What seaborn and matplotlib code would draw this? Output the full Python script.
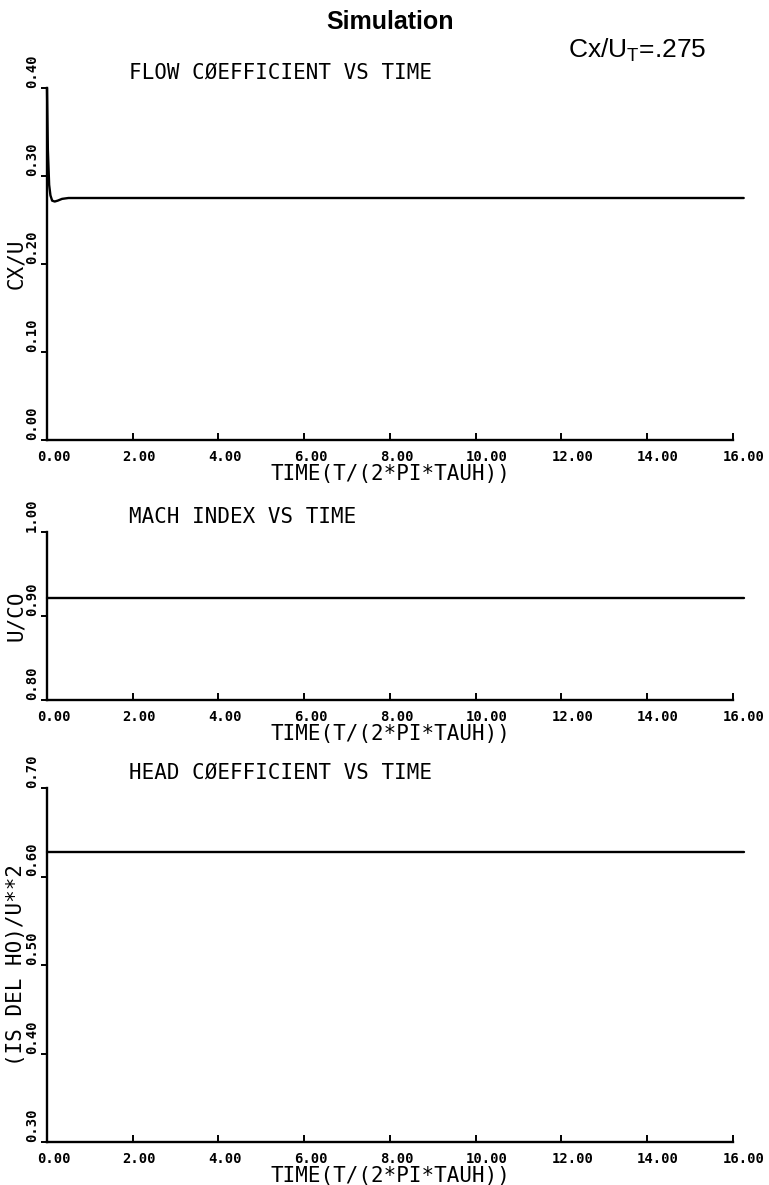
import matplotlib
matplotlib.use("Agg")
import matplotlib.pyplot as plt
import matplotlib.transforms as mtrans
import seaborn as sns
import pandas as pd

# Simulation output: flow coefficient, Mach index and head coefficient versus time
flow_time = [0.0, 0.02, 0.05, 0.08, 0.12, 0.18, 0.25, 0.35, 0.5, 0.8, 16.25]
flow_coef = [0.40, 0.33, 0.29, 0.278, 0.272, 0.271, 0.272, 0.274, 0.275, 0.275, 0.275]

mach_time = [0.0, 16.25]
mach_index = [0.922, 0.922]

head_time = [0.0, 16.25]
head_coef = [0.628, 0.628]

x_ticks = [0, 2, 4, 6, 8, 10, 12, 14, 16]

panels = [
    dict(t=flow_time, v=flow_coef, ylim=(0.0, 0.40), yticks=[0.0, 0.1, 0.2, 0.3, 0.4],
         title="FLOW CØEFFICIENT VS TIME", ylabel="CX/U"),
    dict(t=mach_time, v=mach_index, ylim=(0.80, 1.00), yticks=[0.8, 0.9, 1.0],
         title="MACH INDEX VS TIME", ylabel="U/CO"),
    dict(t=head_time, v=head_coef, ylim=(0.30, 0.70), yticks=[0.3, 0.4, 0.5, 0.6, 0.7],
         title="HEAD CØEFFICIENT VS TIME", ylabel="(IS DEL HO)/U**2"),
]

sns.set_style("ticks", {"axes.edgecolor": "black", "text.color": "black",
                        "axes.labelcolor": "black", "xtick.color": "black",
                        "ytick.color": "black"})
plt.rcParams["font.family"] = ["DejaVu Sans Mono", "DejaVu Sans"]

W, H = 769, 1185
fig = plt.figure(figsize=(W / 100, H / 100), dpi=100)

# axes boxes in pixels: (left, top, right, bottom)
boxes = [(47, 88, 733, 440), (47, 532, 733, 700), (47, 788, 733, 1142)]

mono = "DejaVu Sans Mono"
for p, (l, t, r, b) in zip(panels, boxes):
    ax = fig.add_axes([l / W, 1 - b / H, (r - l) / W, (b - t) / H])
    df = pd.DataFrame({"time": p["t"], "value": p["v"]})
    sns.lineplot(data=df, x="time", y="value", ax=ax, color="black", lw=1.7,
                 clip_on=False)
    ax.set_xlim(0, 16)
    ax.set_ylim(*p["ylim"])
    ax.tick_params(axis="x", direction="in", length=5, width=1.4, pad=7)
    ax.tick_params(axis="y", direction="out", length=4, width=1.4, pad=2)
    ax.set_xticks(x_ticks)
    ax.set_xticklabels([f"{v:.2f}" for v in x_ticks], fontfamily=mono,
                       fontweight="bold", fontsize=10, ha="left")
    ax.set_yticks(p["yticks"])
    ax.set_yticklabels([f"{v:.2f}" for v in p["yticks"]], fontfamily=mono,
                       fontweight="bold", fontsize=10, rotation=90, va="bottom")
    # tick labels start a little before their tick
    shift = mtrans.ScaledTranslation(-10 / 100, 0, fig.dpi_scale_trans)
    for tick in ax.xaxis.get_major_ticks():
        tick.label1.set_transform(tick.label1.get_transform() + shift)
    for s in ("top", "right"):
        ax.spines[s].set_visible(False)
    for s in ("left", "bottom"):
        ax.spines[s].set_linewidth(1.7)
        ax.spines[s].set_color("black")
    ax.set_xlabel("TIME(T/(2*PI*TAUH))", fontfamily=mono, fontsize=15, labelpad=0,
                  color="black")
    ax.set_ylabel(p["ylabel"], fontfamily=mono, fontsize=15, color="black")
    ax.yaxis.set_label_coords(-0.03, 0.5)
    ax.annotate(p["title"], xy=(0.12, 1.0), xycoords="axes fraction",
                xytext=(0, 5), textcoords="offset pixels", va="bottom", ha="left",
                fontfamily=mono, fontsize=15, color="black")

fig.text(390 / W, 1 - 22 / H, "Simulation", ha="center", va="center",
         fontfamily="Liberation Sans", fontweight="bold", fontsize=18, color="black")
fig.text(568 / W, 1 - 50 / H, r"Cx/U$_\mathregular{T}$=.275", ha="left", va="center",
         fontfamily="Liberation Sans", fontsize=19, color="black")

fig.savefig("out.png", dpi=100)
